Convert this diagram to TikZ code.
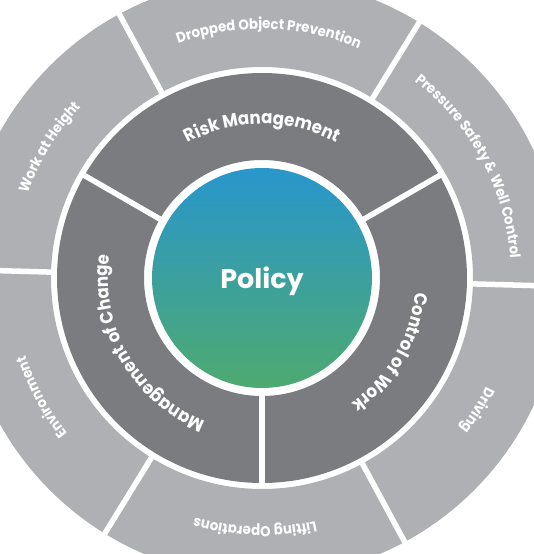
\documentclass[tikz,border=0pt]{standalone}
\usepackage{fontspec}
\newfontfamily\pop{Poppins}[FakeStretch=0.92]
\newfontfamily\popc{Poppins}
\usetikzlibrary{decorations.text}
\definecolor{lightring}{RGB}{175,176,180}
\definecolor{darkring}{RGB}{123,124,128}
\definecolor{ctop}{RGB}{41,150,204}
\definecolor{cmid}{RGB}{88,160,165}
\definecolor{cbot}{RGB}{78,170,112}
\newcommand\outfont{\pop\bfseries\fontsize{14.5}{16}\selectfont}
\newcommand\midfont{\pop\bfseries\fontsize{18}{20}\selectfont}
\newcommand\ringlabel[4]{%
  \path[arctext, decoration={text={|#3|#4}}]
    (#1+60:#2) arc[start angle=#1+60, end angle=#1-60, radius=#2];}
\begin{document}
\begin{tikzpicture}[x=1pt,y=1pt,
  sepline/.style={white, line width=5.5pt},
  arctext/.style={decorate, decoration={text along path, text align=center, text color=white}}]
\useasboundingbox (-262,-276) rectangle (272,278);
\clip (-262,-276) rectangle (272,278);
% rings
\fill[lightring, even odd rule] (0,0) circle (300) (0,0) circle (211);
\fill[darkring, even odd rule] (0,0) circle (205) (0,0) circle (118);
\shade[top color=ctop, middle color=cmid, bottom color=cbot] (0,0) circle (110);
% separators
\foreach \a in {-1.6,58.4,118.4,178.4,238.4,298.4} \draw[sepline] (\a:206) -- (\a:320);
\foreach \a in {30,150,270} \draw[sepline] (\a:112) -- (\a:207);
% outer labels
\ringlabel{88.4}{249}{\outfont}{Dropped Object Prevention}
\ringlabel{28.4}{249}{\outfont}{Pressure Safety {\&} Well Control}
\ringlabel{-31.6}{249}{\outfont}{Driving}
\ringlabel{268.4}{249}{\outfont}{Lifting Operations}
\ringlabel{208.4}{249}{\outfont}{Environment}
\ringlabel{148.4}{249}{\outfont}{Work at Height}
% middle labels
\ringlabel{90}{154}{\midfont}{Risk Management}
\ringlabel{-30}{154}{\midfont}{Control of Work}
\ringlabel{210}{154}{\midfont}{Management of Change}
% centre
\node[anchor=base, text=white, inner sep=0pt, font=\popc\bfseries\fontsize{27}{30}\selectfont] (policy) at (0,-10) {Policy};
\end{tikzpicture}
\end{document}
